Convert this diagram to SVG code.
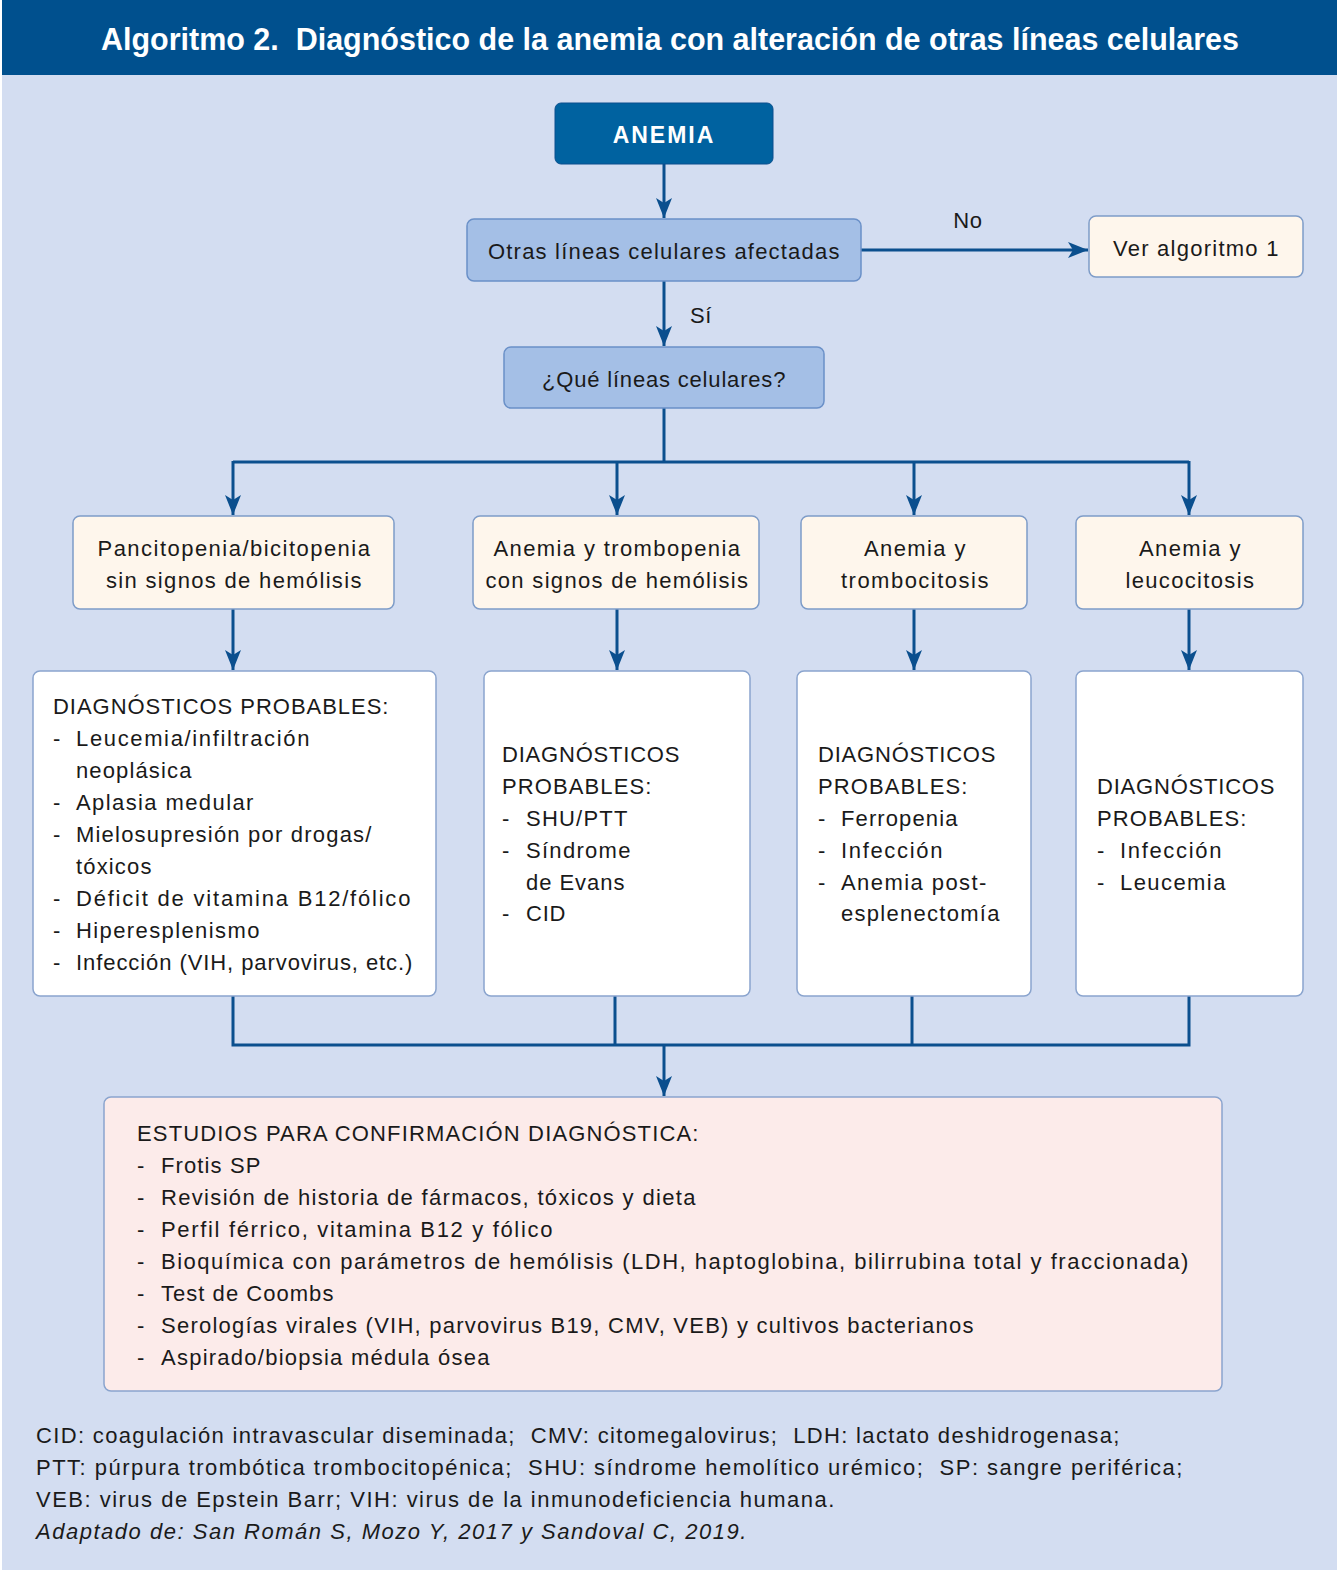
<svg xmlns="http://www.w3.org/2000/svg" width="1339" height="1570" viewBox="0 0 1339 1570">
<defs>
<marker id="arr" markerUnits="userSpaceOnUse" markerWidth="20" markerHeight="16" viewBox="0 0 20 16" refX="20" refY="8" orient="auto">
<path d="M0,0 L20,8 L0,16 L5,8 Z" fill="#0B4F8E"/>
</marker>
<style>
.t{font-family:"Liberation Sans",Arial,sans-serif;font-size:22px;fill:#1a1a1a;letter-spacing:0.6px}
.c{text-anchor:middle}
.con{fill:none;stroke:#0B4F8E;stroke-width:3}
.blue{fill:#A4BFE6;stroke:#6A90C8;stroke-width:1.5}
.cream{fill:#FEF6EC;stroke:#7E9CC8;stroke-width:1.5}
.white{fill:#FFFFFF;stroke:#8AA4CE;stroke-width:1.5}
.pink{fill:#FCEBEA;stroke:#8AA4CE;stroke-width:1.5}
</style>
</defs>
<rect x="0" y="0" width="1339" height="1570" fill="#FFFFFF"/>
<rect x="2" y="0" width="1335" height="1570" fill="#D3DDF1"/>
<rect x="2" y="0" width="1335" height="75" fill="#00508E"/>
<text x="670" y="50" text-anchor="middle" textLength="1138" lengthAdjust="spacingAndGlyphs" style="font-family:'Liberation Sans',Arial,sans-serif;font-size:31px;font-weight:bold;fill:#FFFFFF" xml:space="preserve">Algoritmo 2.  Diagnóstico de la anemia con alteración de otras líneas celulares</text>

<g id="connectors">
<line class="con" x1="664" y1="164" x2="664" y2="218" marker-end="url(#arr)"/>
<line class="con" x1="861" y1="250" x2="1088" y2="250" marker-end="url(#arr)"/>
<line class="con" x1="664" y1="281" x2="664" y2="346" marker-end="url(#arr)"/>
<polyline class="con" points="664,408 664,462"/>
<polyline class="con" points="233,462 1189,462"/>
<line class="con" x1="233" y1="461" x2="233" y2="515" marker-end="url(#arr)"/>
<line class="con" x1="617" y1="462" x2="617" y2="515" marker-end="url(#arr)"/>
<line class="con" x1="914" y1="462" x2="914" y2="515" marker-end="url(#arr)"/>
<line class="con" x1="1189" y1="461" x2="1189" y2="515" marker-end="url(#arr)"/>
<line class="con" x1="233" y1="609" x2="233" y2="670" marker-end="url(#arr)"/>
<line class="con" x1="617" y1="609" x2="617" y2="670" marker-end="url(#arr)"/>
<line class="con" x1="914" y1="609" x2="914" y2="670" marker-end="url(#arr)"/>
<line class="con" x1="1189" y1="609" x2="1189" y2="670" marker-end="url(#arr)"/>
<polyline class="con" points="233,996 233,1045 1189,1045 1189,996"/>
<line class="con" x1="615" y1="996" x2="615" y2="1045"/>
<line class="con" x1="912" y1="996" x2="912" y2="1045"/>
<line class="con" x1="664" y1="1045" x2="664" y2="1096" marker-end="url(#arr)"/>
<text class="t c" x="968" y="228">No</text>
<text class="t" x="690" y="323">Sí</text>
</g>

<g id="n-anemia">
<rect x="555" y="103" width="218" height="61" rx="6" fill="#0062A0" stroke="#0B4F8E" stroke-width="1"/>
<text x="664" y="143" text-anchor="middle" style="font-family:'Liberation Sans',Arial,sans-serif;font-size:23px;font-weight:bold;fill:#FFFFFF;letter-spacing:2px">ANEMIA</text>
</g>
<g id="n-otras">
<rect class="blue" x="467" y="219" width="394" height="62" rx="7"/>
<text class="t c" x="664" y="259" textLength="352">Otras líneas celulares afectadas</text>
</g>
<g id="n-ver">
<rect class="cream" x="1089" y="216" width="214" height="61" rx="7"/>
<text class="t c" x="1196" y="256" textLength="166">Ver algoritmo 1</text>
</g>
<g id="n-que">
<rect class="blue" x="504" y="347" width="320" height="61" rx="7"/>
<text class="t c" x="664" y="387" textLength="244">¿Qué líneas celulares?</text>
</g>

<g id="n-panci">
<rect class="cream" x="73" y="516" width="321" height="93" rx="7"/>
<text class="t c" x="234" y="556" textLength="273">Pancitopenia/bicitopenia</text>
<text class="t c" x="234" y="588" textLength="256">sin signos de hemólisis</text>
</g>
<g id="n-trombop">
<rect class="cream" x="473" y="516" width="286" height="93" rx="7"/>
<text class="t c" x="617" y="556" textLength="247">Anemia y trombopenia</text>
<text class="t c" x="617" y="588" textLength="263">con signos de hemólisis</text>
</g>
<g id="n-tromboc">
<rect class="cream" x="801" y="516" width="226" height="93" rx="7"/>
<text class="t c" x="915" y="556" textLength="102">Anemia y</text>
<text class="t c" x="915" y="588" textLength="148">trombocitosis</text>
</g>
<g id="n-leuco">
<rect class="cream" x="1076" y="516" width="227" height="93" rx="7"/>
<text class="t c" x="1190" y="556" textLength="102">Anemia y</text>
<text class="t c" x="1190" y="588" textLength="129">leucocitosis</text>
</g>

<g id="n-diag1">
<rect class="white" x="33" y="671" width="403" height="325" rx="7"/>
<text class="t" x="53" y="714" textLength="336">DIAGNÓSTICOS PROBABLES:</text>
<text class="t" x="53" y="746">-</text><text class="t" x="76" y="746" textLength="234">Leucemia/infiltración</text>
<text class="t" x="76" y="778" textLength="116">neoplásica</text>
<text class="t" x="53" y="810">-</text><text class="t" x="76" y="810" textLength="178">Aplasia medular</text>
<text class="t" x="53" y="842">-</text><text class="t" x="76" y="842" textLength="296">Mielosupresión por drogas/</text>
<text class="t" x="76" y="874" textLength="76">tóxicos</text>
<text class="t" x="53" y="906">-</text><text class="t" x="76" y="906" textLength="335">Déficit de vitamina B12/fólico</text>
<text class="t" x="53" y="938">-</text><text class="t" x="76" y="938" textLength="184">Hiperesplenismo</text>
<text class="t" x="53" y="970">-</text><text class="t" x="76" y="970" textLength="337">Infección (VIH, parvovirus, etc.)</text>
</g>
<g id="n-diag2">
<rect class="white" x="484" y="671" width="266" height="325" rx="7"/>
<text class="t" x="502" y="762" textLength="178">DIAGNÓSTICOS</text>
<text class="t" x="502" y="794" textLength="150">PROBABLES:</text>
<text class="t" x="502" y="826">-</text><text class="t" x="526" y="826" textLength="102">SHU/PTT</text>
<text class="t" x="502" y="858">-</text><text class="t" x="526" y="858" textLength="105">Síndrome</text>
<text class="t" x="526" y="890" textLength="99">de Evans</text>
<text class="t" x="502" y="921">-</text><text class="t" x="526" y="921" textLength="40">CID</text>
</g>
<g id="n-diag3">
<rect class="white" x="797" y="671" width="234" height="325" rx="7"/>
<text class="t" x="818" y="762" textLength="178">DIAGNÓSTICOS</text>
<text class="t" x="818" y="794" textLength="150">PROBABLES:</text>
<text class="t" x="818" y="826">-</text><text class="t" x="841" y="826" textLength="117">Ferropenia</text>
<text class="t" x="818" y="858">-</text><text class="t" x="841" y="858" textLength="102">Infección</text>
<text class="t" x="818" y="890">-</text><text class="t" x="841" y="890" textLength="146">Anemia post-</text>
<text class="t" x="841" y="921" textLength="159">esplenectomía</text>
</g>
<g id="n-diag4">
<rect class="white" x="1076" y="671" width="227" height="325" rx="7"/>
<text class="t" x="1097" y="794" textLength="178">DIAGNÓSTICOS</text>
<text class="t" x="1097" y="826" textLength="150">PROBABLES:</text>
<text class="t" x="1097" y="858">-</text><text class="t" x="1120" y="858" textLength="102">Infección</text>
<text class="t" x="1097" y="890">-</text><text class="t" x="1120" y="890" textLength="106">Leucemia</text>
</g>

<g id="n-estudios">
<rect class="pink" x="104" y="1097" width="1118" height="294" rx="7"/>
<text class="t" x="137" y="1141" textLength="562">ESTUDIOS PARA CONFIRMACIÓN DIAGNÓSTICA:</text>
<text class="t" x="137" y="1173">-</text><text class="t" x="161" y="1173" textLength="100">Frotis SP</text>
<text class="t" x="137" y="1205">-</text><text class="t" x="161" y="1205" textLength="535">Revisión de historia de fármacos, tóxicos y dieta</text>
<text class="t" x="137" y="1237">-</text><text class="t" x="161" y="1237" textLength="392">Perfil férrico, vitamina B12 y fólico</text>
<text class="t" x="137" y="1269">-</text><text class="t" x="161" y="1269" textLength="1028">Bioquímica con parámetros de hemólisis (LDH, haptoglobina, bilirrubina total y fraccionada)</text>
<text class="t" x="137" y="1301">-</text><text class="t" x="161" y="1301" textLength="173">Test de Coombs</text>
<text class="t" x="137" y="1333">-</text><text class="t" x="161" y="1333" textLength="813">Serologías virales (VIH, parvovirus B19, CMV, VEB) y cultivos bacterianos</text>
<text class="t" x="137" y="1365">-</text><text class="t" x="161" y="1365" textLength="329">Aspirado/biopsia médula ósea</text>
</g>

<g id="footnotes">
<text class="t" x="36" y="1443" textLength="1084" xml:space="preserve">CID: coagulación intravascular diseminada;  CMV: citomegalovirus;  LDH: lactato deshidrogenasa;</text>
<text class="t" x="36" y="1475" textLength="1147" xml:space="preserve">PTT: púrpura trombótica trombocitopénica;  SHU: síndrome hemolítico urémico;  SP: sangre periférica;</text>
<text class="t" x="36" y="1507" textLength="799">VEB: virus de Epstein Barr; VIH: virus de la inmunodeficiencia humana.</text>
<text class="t" x="36" y="1539" textLength="711" style="font-style:italic">Adaptado de: San Román S, Mozo Y, 2017 y Sandoval C, 2019.</text>
</g>
</svg>
